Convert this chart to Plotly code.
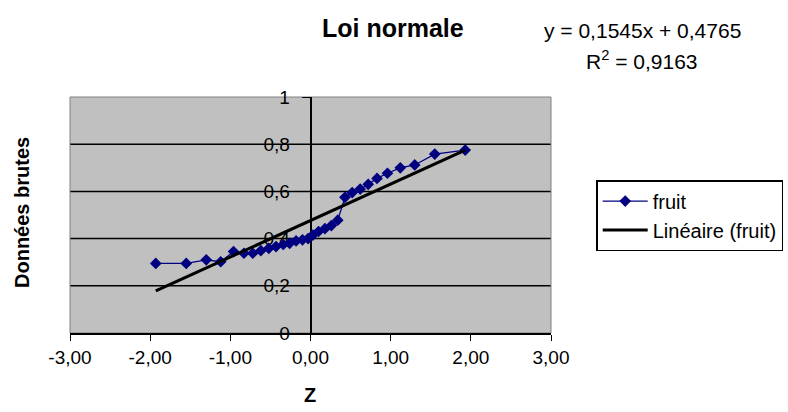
import plotly.graph_objects as go

# Data
z_values = [-1.93, -1.55, -1.30, -1.12, -0.96, -0.83, -0.72, -0.62, -0.52, -0.43,
            -0.34, -0.26, -0.18, -0.10, -0.03, 0.03, 0.10, 0.18, 0.26, 0.34,
            0.43, 0.52, 0.62, 0.72, 0.83, 0.96, 1.12, 1.30, 1.55, 1.93]
raw_values = [0.295, 0.295, 0.310, 0.302, 0.345, 0.338, 0.338, 0.349, 0.359, 0.366,
              0.375, 0.380, 0.390, 0.395, 0.400, 0.415, 0.430, 0.442, 0.455, 0.478,
              0.575, 0.595, 0.610, 0.630, 0.655, 0.677, 0.700, 0.712, 0.758, 0.775]
slope = 0.1545
intercept = 0.4765
trend_x = [-1.93, 1.93]

x_ticks = [-3, -2, -1, 0, 1, 2, 3]
x_ticktext = ["-3,00", "-2,00", "-1,00", "0,00", "1,00", "2,00", "3,00"]
y_ticks = [0, 0.2, 0.4, 0.6, 0.8, 1]
y_ticktext = ["0", "0,2", "0,4", "0,6", "0,8", "1"]
grid_vals = [0.2, 0.4, 0.6, 0.8]

FONT = "Liberation Sans, Arial, sans-serif"

fig = go.Figure()
fig.add_trace(go.Scatter(
    x=z_values, y=raw_values, mode="lines+markers", name="fruit",
    line=dict(color="#000080", width=1.3),
    marker=dict(symbol="diamond", size=9, color="#000080"),
))
fig.add_trace(go.Scatter(
    x=trend_x, y=[slope * v + intercept for v in trend_x], mode="lines",
    name="Linéaire (fruit)", line=dict(color="black", width=3),
))

shapes = [dict(type="line", xref="paper", x0=0, x1=1, yref="y", y0=g, y1=g,
               line=dict(color="black", width=1.5), layer="between") for g in grid_vals]
shapes.append(dict(type="rect", xref="paper", yref="paper", x0=0, x1=1, y0=0, y1=1,
                   line=dict(color="#808080", width=1), layer="below"))

fig.update_layout(
    width=788, height=412,
    margin=dict(l=70, r=237, t=97, b=79, autoexpand=False),
    paper_bgcolor="white", plot_bgcolor="#C0C0C0",
    font=dict(family=FONT, size=19, color="black"),
    showlegend=True,
    legend=dict(x=1.094, y=0.648, xanchor="left", yanchor="top",
                bordercolor="black", borderwidth=1.5, bgcolor="white",
                font=dict(size=20), tracegroupgap=0, itemwidth=45),
    shapes=shapes,
    xaxis=dict(range=[-3, 3], tickvals=x_ticks, ticktext=x_ticktext,
               showgrid=False, zeroline=False, showline=True, linecolor="black",
               linewidth=1.5, ticks="outside", ticklen=6, tickcolor="black",
               tickfont=dict(size=19)),
    yaxis=dict(range=[0, 1], tickvals=y_ticks, ticktext=y_ticktext,
               anchor="free", position=0.5, showgrid=False, zeroline=False,
               showline=True, linecolor="black", linewidth=1.5,
               ticks="outside", ticklen=8, tickcolor="black", ticklabelstandoff=8,
               layer="below traces", tickfont=dict(size=19)),
    annotations=[
        dict(text="<b>Loi normale</b>", xref="paper", yref="paper",
             x=(393 - 70) / 481, y=(333 - 28) / 236, xanchor="center", yanchor="middle",
             showarrow=False, font=dict(size=25)),
        dict(text="y = 0,1545x + 0,4765", xref="paper", yref="paper",
             x=(642 - 70) / 481, y=(333 - 30) / 236, xanchor="center", yanchor="middle",
             showarrow=False, font=dict(size=21)),
        dict(text="R<sup>2</sup> = 0,9163", xref="paper", yref="paper",
             x=(642 - 70) / 481, y=(333 - 60) / 236, xanchor="center", yanchor="middle",
             showarrow=False, font=dict(size=21)),
        dict(text="<b>Données brutes</b>", xref="paper", yref="paper",
             x=(22 - 70) / 481, y=(333 - 213) / 236, xanchor="center", yanchor="middle",
             showarrow=False, textangle=-90, font=dict(size=20)),
        dict(text="<b>Z</b>", xref="paper", yref="paper",
             x=(310 - 70) / 481, y=(333 - 395) / 236, xanchor="center", yanchor="middle",
             showarrow=False, font=dict(size=20)),
    ],
)

fig.write_html("out.html")
